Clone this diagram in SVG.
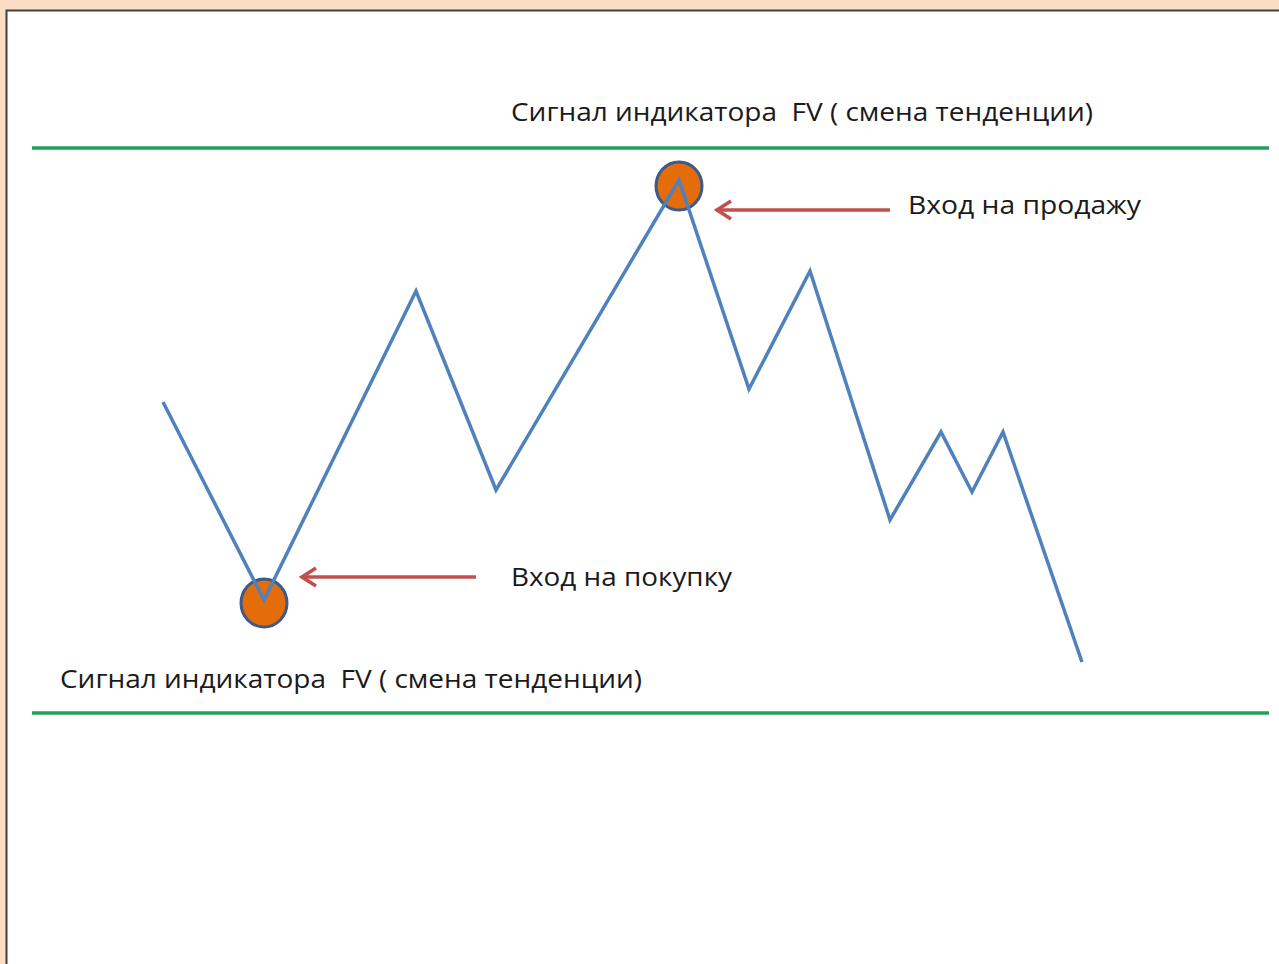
<svg xmlns="http://www.w3.org/2000/svg" width="1279" height="964" viewBox="0 0 1279 964">
<defs>
<style>
.lbl{font-family:"Open Sans","Noto Sans",sans-serif;font-size:25px;fill:#1a1a1a;white-space:pre}
.lvl{stroke:#20A05A;stroke-width:3.5;fill:none}
.arr{stroke:#C0504D;stroke-width:3.5;fill:none}
.dot{fill:#E46C0A;stroke:#3C5A8A;stroke-width:3}
</style>
<marker id="ah" viewBox="0 0 20 24" refX="17" refY="12" markerWidth="20" markerHeight="24" markerUnits="userSpaceOnUse" orient="auto">
<path d="M3,3 L17,12 L3,21" fill="none" stroke="#C0504D" stroke-width="3.5"/>
</marker>
</defs>
<rect x="0" y="0" width="1279" height="964" fill="#FADDC2"/>
<rect x="6" y="10" width="1273" height="954" fill="#ffffff"/>
<path d="M6.5,964 V10.5 H1279" fill="none" stroke="#404040" stroke-width="2"/>
<g id="levels">
<line class="lvl" x1="32" y1="148" x2="1269" y2="148"/>
<line class="lvl" x1="32" y1="713" x2="1269" y2="713"/>
</g>
<g id="dot-top"><ellipse class="dot" cx="679" cy="186" rx="23" ry="24"/></g>
<g id="dot-bottom"><ellipse class="dot" cx="264" cy="603" rx="23" ry="24"/></g>
<g id="price">
<polyline points="163,402 264,600 416,291 496,490 679,180 749,389 810,271 890,520 941,432 972,492 1003,432 1082,662" fill="none" stroke="#4F81BD" stroke-width="3.5" stroke-linejoin="miter"/>
</g>
<g id="connectors">
<line class="arr" x1="890" y1="210" x2="717" y2="210" marker-end="url(#ah)"/>
<line class="arr" x1="476" y1="577" x2="302" y2="577" marker-end="url(#ah)"/>
</g>
<g id="label-top"><text class="lbl" xml:space="preserve" x="511" y="121" textLength="582" lengthAdjust="spacingAndGlyphs">Сигнал индикатора  FV ( смена тенденции)</text></g>
<g id="label-bottom"><text class="lbl" xml:space="preserve" x="60" y="688" textLength="582" lengthAdjust="spacingAndGlyphs">Сигнал индикатора  FV ( смена тенденции)</text></g>
<g id="label-sell"><text class="lbl" x="908" y="214" textLength="233" lengthAdjust="spacingAndGlyphs">Вход на продажу</text></g>
<g id="label-buy"><text class="lbl" x="511" y="586" textLength="221" lengthAdjust="spacingAndGlyphs">Вход на покупку</text></g>
</svg>
